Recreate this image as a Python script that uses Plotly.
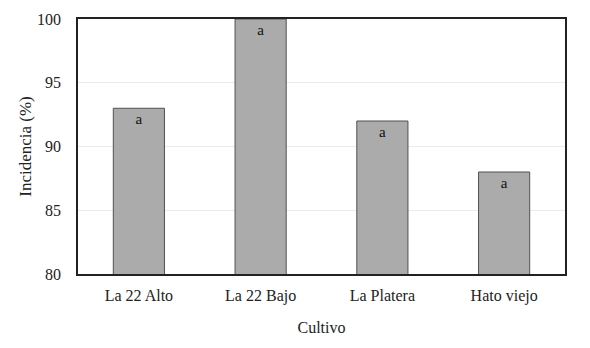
import plotly.graph_objects as go

categories = ["La 22 Alto", "La 22 Bajo", "La Platera", "Hato viejo"]
values = [93, 100, 92, 88]
letters = ["a", "a", "a", "a"]
y_ticks = [80, 85, 90, 95, 100]

font_family = "Liberation Serif"

fig = go.Figure(go.Bar(
    x=categories, y=values, text=letters,
    textposition="inside", insidetextanchor="end",
    textfont=dict(family=font_family, size=15, color="#111"),
    marker=dict(color="#ababab", line=dict(color="#505050", width=1)),
    width=0.42,
))

fig.update_layout(
    width=590, height=348,
    margin=dict(l=78, r=25, t=19, b=74, autoexpand=False),
    paper_bgcolor="white", plot_bgcolor="white",
    font=dict(family=font_family, size=16, color="#222"),
    showlegend=False,
    uniformtext=dict(minsize=15, mode="show"),
)
fig.update_xaxes(
    title=dict(text="Cultivo", font=dict(size=16), standoff=18),
    automargin=False,
    showline=True, linecolor="#222", linewidth=1.5, mirror=True,
    ticks="outside", ticklen=6, tickcolor="rgba(0,0,0,0)",
    tickfont=dict(size=16),
)
fig.update_yaxes(
    title=dict(text="Incidencia (%)", font=dict(size=17), standoff=1),
    automargin=False,
    range=[80, 100], tickvals=y_ticks,
    showline=True, linecolor="#222", linewidth=1.5, mirror=True,
    showgrid=True, gridcolor="#ebebeb", gridwidth=1,
    ticks="outside", ticklen=12, tickcolor="rgba(0,0,0,0)",
    tickfont=dict(size=16),
)

fig.write_html(
    "out.html",
    config={"displayModeBar": False},
    post_script="document.body.style.margin='0';document.body.style.padding='0';",
)
